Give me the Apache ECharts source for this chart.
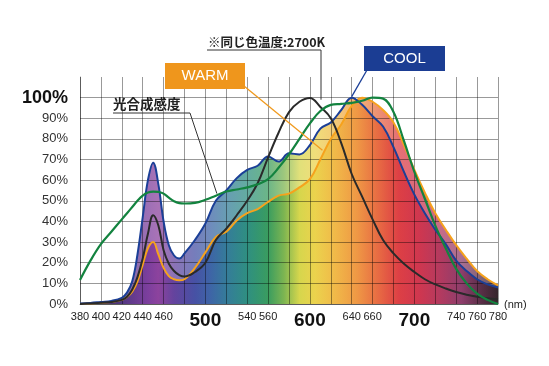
<!DOCTYPE html>
<html><head><meta charset="utf-8">
<script src="https://cdn.jsdelivr.net/npm/echarts@6/dist/echarts.min.js"></script>
<style>html,body{margin:0;padding:0;background:#fff}#c{width:549px;height:366px}</style>
</head><body><div id="c"></div>
<script>
const wavelengths = [380,390,400,410,420,425,430,435,440,445,450,455,460,465,470,475,480,490,500,510,520,530,540,550,560,570,580,590,600,610,620,630,640,650,660,670,680,690,700,710,720,730,740,750,760,770,780];
const cool  = [0.3,0.5,1,1.5,3,5.5,11,24,42,60,68.5,58,40,28.5,23.5,22,24.5,31,39,50,55,61,65,67,71.5,69,73,72.5,77,85,88,94,100,96.5,91,86,76,64,53,44,36,29,21,16,12,9.5,8];
const warm  = [0,0.3,0.6,1,2,3.5,6,11,19,27,30,24,17.5,13.5,12,11.5,12,17.5,25,32.5,35,40.5,44,46,49.5,52.5,53.5,56.5,60.5,70,80,87,96,100,98,94,88,77,65,54,44,36,28.5,22,16,12,9];
const k2700 = [0,0.3,0.6,1,2,3.5,7,13,22,34,43,38,26,19.5,16,14,13.3,15.5,20,31,36.5,43,50,58.5,71,83,93,98,99.8,95.5,90,78,63,52,41,31,24.5,19.5,15.5,12,9.5,7.5,5.8,4.5,3.5,2.8,2.2];
const photo = [11.6,21,29,35,41,44,47,50,52.5,54,54.5,54.3,53.5,51.5,49.8,48.9,48.7,49,50.5,52.5,54.5,55.5,56.5,58,60.5,66,72.5,80,87.5,93.5,96.5,97,97.5,98.5,100,99.5,93,79,64,51,38,27,17,10,5,2,0];
const xTickLabels = [380,400,420,440,460,500,540,560,600,640,660,700,740,760,780];
const xMajorLabels = [500,600,700];
const yTickLabels = [0,10,20,30,40,50,60,70,80,90,100];

const spectrumStops = [
  [0,'#1a0a2a'],[0.1,'#3b1d70'],[0.1625,'#6a2590'],[0.1875,'#7d2a90'],[0.225,'#4f2a90'],
  [0.275,'#2e3a98'],[0.3125,'#24509a'],[0.35,'#1a6a8c'],[0.4,'#138070'],[0.45,'#1f8f4a'],
  [0.4875,'#6aaa3a'],[0.525,'#d0d035'],[0.5625,'#e8cc35'],[0.6125,'#eeae30'],[0.6625,'#ec8a2c'],
  [0.7125,'#e4582a'],[0.7625,'#d8262c'],[0.8125,'#c81c38'],[0.8625,'#a8204a'],[0.9125,'#7e2458'],
  [0.9625,'#40122c'],[1,'#1a0810']
];
function grad(){ return {type:'linear',x:0,y:0,x2:1,y2:0,colorStops:spectrumStops.map(s=>({offset:s[0],color:s[1]}))}; }
const pairs = arr => wavelengths.map((w,i)=>[w,arr[i]]);

const chart = echarts.init(document.getElementById('c'), null, {renderer:'canvas'});
const FONT = '"Liberation Sans", Arial, sans-serif';
const CJK = '"Noto Sans CJK JP", sans-serif';
const GRIDC = 'rgba(0,0,0,0.4)';

function areaSeries(d){ return {type:'line',data:pairs(d),smooth:0.4,symbol:'none',lineStyle:{width:0},areaStyle:{color:grad(),opacity:0.66},z:1,silent:true}; }
function lineSeries(d,color,w){ return {type:'line',data:pairs(d),smooth:0.4,symbol:'none',lineStyle:{color:color,width:w},z:3,silent:true}; }

chart.setOption({
  animation:false,
  grid:{left:80,right:51,top:77,bottom:62},
  xAxis:{type:'value',min:380,max:780,interval:20,z:2,
    axisLine:{show:true,lineStyle:{color:GRIDC,width:1}},
    axisTick:{show:false},
    splitLine:{show:true,lineStyle:{color:GRIDC,width:1}},
    axisLabel:{margin:7,fontFamily:FONT,fontSize:11,color:'#222',
      formatter:v=>xMajorLabels.includes(v)?'{big|'+v+'}':(xTickLabels.includes(v)?'{sm|'+v+'}':''),
      rich:{sm:{fontFamily:FONT,fontSize:11,color:'#222'},big:{fontFamily:FONT,fontSize:19,fontWeight:'bold',color:'#111'}}}
  },
  yAxis:{type:'value',min:0,max:110,interval:10,z:2,
    axisLine:{show:true,lineStyle:{color:GRIDC,width:1}},
    axisTick:{show:false},
    splitLine:{show:true,showMaxLine:false,lineStyle:{color:GRIDC,width:1}},
    axisLabel:{margin:12,fontFamily:FONT,fontSize:13,color:'#333',
      formatter:v=>!yTickLabels.includes(v)?'':(v===100?'{big|100%}':v+'%'),
      rich:{big:{fontFamily:FONT,fontSize:18,fontWeight:'bold',color:'#111'}}}
  },
  series:[
    areaSeries(warm),
    areaSeries(cool),
    lineSeries(warm,'#f6a21c',2),
    lineSeries(cool,'#1b3f97',2),
    lineSeries(k2700,'#2a2a2a',2),
    lineSeries(photo,'#13833f',2.2)
  ]
});

const P = (x,y)=>chart.convertToPixel({gridIndex:0},[x,y]);
const warmEnd = P(612,74.5), coolEnd = P(640,100.5), kEnd = P(610.5,99), phEnd = P(511,53.5);
chart.setOption({graphic:[
  {type:'polyline',shape:{points:[[113,113],[190,113],phEnd]},style:{stroke:'#333',lineWidth:1,fill:null},z:10},
  {type:'text',style:{text:'光合成感度',x:113,y:104,font:'bold 13.5px '+CJK,fill:'#222',textVerticalAlign:'middle'},z:10},
  {type:'polyline',shape:{points:[[207,50],[321,50],[321,kEnd[1]]]},style:{stroke:'#333',lineWidth:1,fill:null},z:10},
  {type:'text',style:{text:'※同じ色温度:2700K',x:208,y:42,font:'bold 12.5px '+CJK,fill:'#222',textVerticalAlign:'middle'},z:10},
  {type:'line',shape:{x1:244,y1:86,x2:warmEnd[0],y2:warmEnd[1]},style:{stroke:'#f09a1e',lineWidth:1.3},z:10},
  {type:'rect',shape:{x:165,y:63,width:80,height:26},style:{fill:'#ef961c'},z:11},
  {type:'text',style:{text:'WARM',x:205,y:76,font:'15px '+FONT,fill:'#fff',textAlign:'center',textVerticalAlign:'middle'},z:12},
  {type:'line',shape:{x1:367,y1:70,x2:coolEnd[0],y2:coolEnd[1]},style:{stroke:'#1b3f97',lineWidth:1.3},z:10},
  {type:'rect',shape:{x:364,y:46,width:81,height:25},style:{fill:'#1b3d93'},z:11},
  {type:'text',style:{text:'COOL',x:404.5,y:58.5,font:'15px '+FONT,fill:'#fff',textAlign:'center',textVerticalAlign:'middle'},z:12},
  {type:'text',style:{text:'(nm)',x:504,y:305,font:'11px '+FONT,fill:'#222',textVerticalAlign:'middle'},z:10}
]});
</script></body></html>
